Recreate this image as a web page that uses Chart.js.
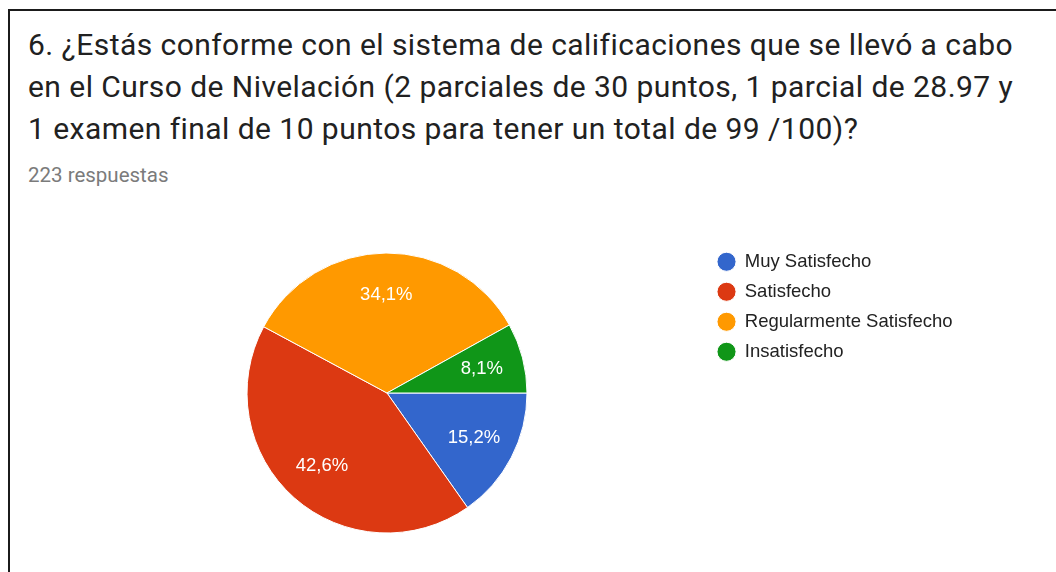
<!DOCTYPE html>
<html>
<head>
<meta charset="utf-8">
<script src="https://cdn.jsdelivr.net/npm/chart.js@4"></script>
<style>
    html, body { margin: 0; padding: 0; background: #fff; width: 1056px; height: 572px; overflow: hidden; }
    #frame { position: absolute; left: 8px; top: 9px; width: 1200px; height: 700px;
             border-left: 2px solid #1b1b1b; border-top: 2px solid #1b1b1b; }
    #title { position: absolute; left: 28px; top: 24px; font-family: Roboto, sans-serif; font-size: 30px;
             letter-spacing: 0.45px; line-height: 42.2px; color: #212121; white-space: nowrap; }
    #sub { position: absolute; left: 28px; top: 163px; font-family: Roboto, sans-serif; font-size: 20.5px;
           line-height: 24px; color: #7b7b7b; white-space: nowrap; }
    #wrap { position: absolute; left: 0; top: 0; width: 1056px; height: 572px; }
</style>
</head>
<body>
<div id="frame"></div>
<div id="title">6. ¿Estás conforme con el sistema de calificaciones que se llevó a cabo<br>en el Curso de Nivelación (2 parciales de 30 puntos, 1 parcial de 28.97 y<br>1 examen final de 10 puntos para tener un total de 99 /100)?</div>
<div id="sub">223 respuestas</div>
<div id="wrap"><canvas id="chart"></canvas></div>
<script>
const categorias = ['Muy Satisfecho', 'Satisfecho', 'Regularmente Satisfecho', 'Insatisfecho'];
const respuestas = [34, 95, 76, 18];
const colores = ['#3366cc', '#dc3912', '#ff9900', '#109618'];

// percentage labels inside each slice
const sliceLabels = {
    id: 'sliceLabels',
    afterDatasetsDraw(chart) {
        const ctx = chart.ctx;
        const meta = chart.getDatasetMeta(0);
        const total = respuestas.reduce((a, b) => a + b, 0);
        ctx.save();
        ctx.fillStyle = '#ffffff';
        ctx.font = '18.5px "Liberation Sans", Arial, sans-serif';
        ctx.textAlign = 'center';
        ctx.textBaseline = 'middle';
        meta.data.forEach((arc, i) => {
            const p = arc.getProps(['x', 'y', 'startAngle', 'endAngle', 'outerRadius']);
            const mid = (p.startAngle + p.endAngle) / 2;
            const r = p.outerRadius * 0.7;
            const txt = (respuestas[i] / total * 100).toFixed(1).replace('.', ',') + '%';
            ctx.fillText(txt, p.x + Math.cos(mid) * r, p.y + Math.sin(mid) * r);
        });
        ctx.restore();
    }
};

const ctx = document.getElementById('chart').getContext('2d');
const chart = new Chart(ctx, {
    type: 'pie',
    data: {
        labels: categorias,
        datasets: [{
            data: respuestas,
            backgroundColor: colores,
            borderColor: '#ffffff',
            borderWidth: 1
        }]
    },
    options: {
        responsive: true,
        maintainAspectRatio: false,
        animation: false,
        radius: 140,
        rotation: 90,
        layout: {
            padding: { left: 68, top: 241, bottom: 27, right: 93.5 }
        },
        plugins: {
            tooltip: { enabled: false },
            legend: {
                position: 'right',
                align: 'start',
                labels: {
                    usePointStyle: true,
                    pointStyle: 'circle',
                    boxWidth: 18,
                    boxHeight: 13.5,
                    padding: 11.5,
                    color: '#222222',
                    font: { family: '"Liberation Sans", Arial, sans-serif', size: 18.5 }
                }
            }
        }
    },
    plugins: [sliceLabels]
});
</script>
</body>
</html>
